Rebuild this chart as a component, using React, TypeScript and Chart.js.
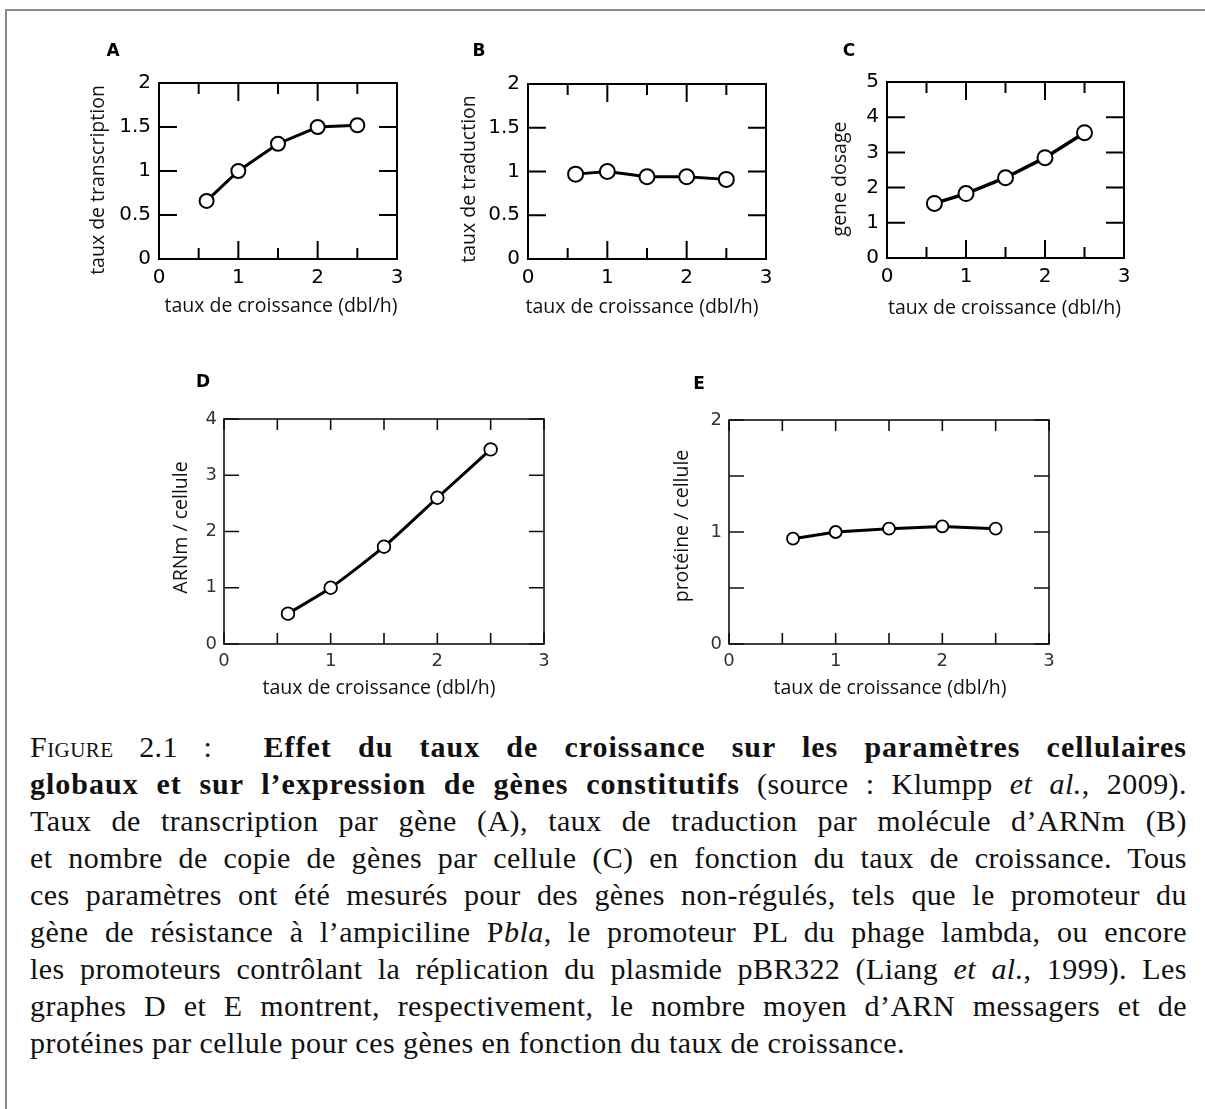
import React, { useEffect, useRef } from "react";
import { Chart, registerables } from "chart.js";

Chart.register(...registerables);

// ---------- data ----------
const growthRate = [0.6, 1, 1.5, 2, 2.5];
const transcriptionRate = [0.66, 1.0, 1.31, 1.5, 1.52];
const translationRate = [0.97, 1.0, 0.94, 0.94, 0.91];
const geneDosage = [1.55, 1.83, 2.28, 2.85, 3.56];
const mrnaPerCell = [0.54, 1.0, 1.73, 2.6, 3.46];
const proteinPerCell = [0.94, 1.0, 1.03, 1.05, 1.03];

const xTitle = "taux de croissance (dbl/h)";
const xMin = 0;
const xMax = 3;
const xStep = 0.5;

// ---------- layout / style ----------
const M = { left: 90, top: 50, right: 30, bottom: 70 };

type Area = { l: number; t: number; r: number; b: number };
type PanelCfg = {
  letter: string;
  yTitle: string;
  values: number[];
  yMax: number;
  yStep: number;
  yIntLabels: boolean;
  area: Area;
  tickFont: number;
  tickColor: string;
  xPad: number;
  yPad: number;
  frameW: number;
  frameColor: string;
  xMajor: number;
  xMinor: number;
  yMajor: number;
  yMinor: number;
  lineW: number;
  pointR: number;
  pointBW: number;
  tension: number;
  letterDx: number;
  letterDy: number;
  yTitleDx: number;
  yTitleDy: number;
  xTitleDx: number;
  xTitleDy: number;
};

const topStyle = {
  tickFont: 20,
  tickColor: "#000",
  xPad: 7,
  yPad: 8,
  frameW: 2,
  frameColor: "#000",
  xMajor: 18,
  xMinor: 11,
  yMajor: 18,
  yMinor: 11,
  lineW: 3,
  pointBW: 2,
  tension: 0,
};
const bottomStyle = {
  tickFont: 18,
  tickColor: "#333",
  xPad: 7,
  yPad: 7,
  frameW: 1.6,
  frameColor: "#111",
  xMajor: 11,
  xMinor: 11,
  yMajor: 15,
  yMinor: 15,
  lineW: 3,
  pointBW: 1.8,
};

const panels: PanelCfg[] = [
  {
    ...topStyle,
    letter: "A",
    yTitle: "taux de transcription",
    values: transcriptionRate,
    yMax: 2,
    yStep: 0.5,
    yIntLabels: false,
    area: { l: 159, t: 83, r: 397, b: 259 },
    pointR: 7,
    letterDx: -46,
    letterDy: -31,
    yTitleDx: -61,
    yTitleDy: 9,
    xTitleDx: 3,
    xTitleDy: 47.5,
  },
  {
    ...topStyle,
    letter: "B",
    yTitle: "taux de traduction",
    values: translationRate,
    yMax: 2,
    yStep: 0.5,
    yIntLabels: false,
    area: { l: 528, t: 84, r: 766, b: 259 },
    pointR: 7.5,
    letterDx: -49,
    letterDy: -32,
    yTitleDx: -59,
    yTitleDy: 7.5,
    xTitleDx: -5,
    xTitleDy: 48.5,
  },
  {
    ...topStyle,
    letter: "C",
    yTitle: "gene dosage",
    values: geneDosage,
    yMax: 5,
    yStep: 1,
    yIntLabels: false,
    area: { l: 887, t: 82, r: 1124, b: 258 },
    pointR: 7.5,
    lineW: 3.5,
    letterDx: -38,
    letterDy: -30,
    yTitleDx: -47,
    yTitleDy: 9,
    xTitleDx: -1,
    xTitleDy: 50,
  },
  {
    ...bottomStyle,
    letter: "D",
    yTitle: "ARNm / cellule",
    values: mrnaPerCell,
    yMax: 4,
    yStep: 1,
    yIntLabels: false,
    area: { l: 224, t: 419, r: 544, b: 644 },
    pointR: 6.3,
    tension: 0.2,
    letterDx: -21,
    letterDy: -36,
    yTitleDx: -43,
    yTitleDy: -4,
    xTitleDx: -5,
    xTitleDy: 44,
  },
  {
    ...bottomStyle,
    letter: "E",
    yTitle: "protéine / cellule",
    values: proteinPerCell,
    yMax: 2,
    yStep: 0.5,
    yIntLabels: true,
    area: { l: 729, t: 420, r: 1049, b: 644 },
    pointR: 6,
    tension: 0,
    letterDx: -30,
    letterDy: -35,
    yTitleDx: -47,
    yTitleDy: -6,
    xTitleDx: 1,
    xTitleDy: 44,
  },
];

const titleFont = '19.5px "Open Sans", "Noto Sans", sans-serif';
const letterFont = 'bold 17px "DejaVu Sans", sans-serif';
const tickFamily = '"DejaVu Sans", "Liberation Sans", sans-serif';

function makeFramePlugin(p: PanelCfg) {
  return {
    id: "frame" + p.letter,
    beforeDatasetsDraw(chart: any) {
      const { ctx, chartArea: a } = chart;
      const xs = chart.scales.x;
      const ys = chart.scales.y;
      ctx.save();
      ctx.strokeStyle = p.frameColor;
      ctx.lineWidth = p.frameW;
      ctx.strokeRect(a.left, a.top, a.right - a.left, a.bottom - a.top);
      ctx.beginPath();
      xs.ticks.forEach((t: any) => {
        const px = xs.getPixelForValue(t.value);
        const len = t.label !== "" ? p.xMajor : p.xMinor;
        ctx.moveTo(px, a.bottom);
        ctx.lineTo(px, a.bottom - len);
        ctx.moveTo(px, a.top);
        ctx.lineTo(px, a.top + len);
      });
      ys.ticks.forEach((t: any) => {
        const py = ys.getPixelForValue(t.value);
        const len = t.label !== "" ? p.yMajor : p.yMinor;
        ctx.moveTo(a.left, py);
        ctx.lineTo(a.left + len, py);
        ctx.moveTo(a.right, py);
        ctx.lineTo(a.right - len, py);
      });
      ctx.stroke();
      ctx.restore();
    },
    afterDraw(chart: any) {
      const { ctx, chartArea: a } = chart;
      ctx.save();
      ctx.fillStyle = "#111";
      ctx.font = titleFont;
      ctx.textAlign = "center";
      ctx.textBaseline = "middle";
      ctx.fillText(xTitle, (a.left + a.right) / 2 + p.xTitleDx, a.bottom + p.xTitleDy);
      ctx.save();
      ctx.translate(a.left + p.yTitleDx, (a.top + a.bottom) / 2 + p.yTitleDy);
      ctx.rotate(-Math.PI / 2);
      ctx.fillText(p.yTitle, 0, 0);
      ctx.restore();
      ctx.fillStyle = "#000";
      ctx.font = letterFont;
      ctx.fillText(p.letter, a.left + p.letterDx, a.top + p.letterDy);
      ctx.restore();
    },
  };
}

function Panel({ p }: { p: PanelCfg }) {
  const ref = useRef<HTMLCanvasElement | null>(null);
  const w = p.area.r - p.area.l + M.left + M.right;
  const h = p.area.b - p.area.t + M.top + M.bottom;

  useEffect(() => {
    if (!ref.current) return;
    const chart = new Chart(ref.current, {
      type: "line",
      data: {
        datasets: [
          {
            data: growthRate.map((x, i) => ({ x, y: p.values[i] })),
            borderColor: "#000",
            borderWidth: p.lineW,
            pointRadius: p.pointR,
            pointHoverRadius: p.pointR,
            pointBackgroundColor: "#fff",
            pointBorderColor: "#000",
            pointBorderWidth: p.pointBW,
            tension: p.tension,
            fill: false,
            clip: false as any,
          },
        ],
      },
      options: {
        responsive: false,
        animation: false,
        events: [],
        layout: { padding: { left: 0, top: M.top, right: M.right, bottom: 0 } },
        plugins: { legend: { display: false }, tooltip: { enabled: false } },
        scales: {
          x: {
            type: "linear",
            min: xMin,
            max: xMax,
            grid: { display: false, drawTicks: false },
            border: { display: false },
            ticks: {
              stepSize: xStep,
              autoSkip: false,
              maxRotation: 0,
              padding: p.xPad,
              color: p.tickColor,
              font: { family: tickFamily, size: p.tickFont },
              callback: (v: any) => (Number.isInteger(Number(v)) ? String(v) : ""),
            },
            afterFit: (s: any) => {
              s.height = M.bottom;
            },
          },
          y: {
            type: "linear",
            min: 0,
            max: p.yMax,
            grid: { display: false, drawTicks: false },
            border: { display: false },
            ticks: {
              stepSize: p.yStep,
              autoSkip: false,
              padding: p.yPad,
              color: p.tickColor,
              font: { family: tickFamily, size: p.tickFont },
              callback: (v: any) =>
                p.yIntLabels ? (Number.isInteger(Number(v)) ? String(v) : "") : String(v),
            },
            afterFit: (s: any) => {
              s.width = M.left;
            },
          },
        },
      },
      plugins: [makeFramePlugin(p)],
    } as any);
    return () => chart.destroy();
  }, []);

  return (
    <canvas
      ref={ref}
      width={w}
      height={h}
      style={{
        position: "absolute",
        left: p.area.l - M.left,
        top: p.area.t - M.top,
        width: w,
        height: h,
      }}
    />
  );
}

const just: React.CSSProperties = { textAlign: "justify", textAlignLast: "justify" };
const wideBold: React.CSSProperties = { letterSpacing: "1px" };

export default function App() {
  return (
    <div
      style={{
        position: "absolute",
        left: 0,
        top: 0,
        width: 1205,
        height: 1109,
        overflow: "hidden",
        background: "#fff",
      }}
    >
      <div
        style={{
          position: "absolute",
          left: 5,
          top: 9,
          width: 1300,
          height: 1300,
          borderTop: "2px solid #8c8c8c",
          borderLeft: "2px solid #8c8c8c",
        }}
      />
      {panels.map((p) => (
        <Panel key={p.letter} p={p} />
      ))}
      <div
        style={{
          position: "absolute",
          left: 30,
          top: 728,
          width: 1157,
          fontFamily: '"Liberation Serif", "Times New Roman", serif',
          fontSize: 30,
          lineHeight: "37px",
          letterSpacing: "0.45px",
          color: "#111",
        }}
      >
        <div style={just}>
          <span style={{ fontVariant: "small-caps" }}>Figure</span> 2.1 :&nbsp;{" "}
          <b style={wideBold}>Effet du taux de croissance sur les paramètres cellulaires</b>
        </div>
        <div style={just}>
          <b style={wideBold}>globaux et sur l’expression de gènes constitutifs</b> (source :
          Klumpp <i>et al.</i>, 2009).
        </div>
        <div style={just}>
          Taux de transcription par gène (A), taux de traduction par molécule d’ARNm (B)
        </div>
        <div style={just}>
          et nombre de copie de gènes par cellule (C) en fonction du taux de croissance. Tous
        </div>
        <div style={just}>
          ces paramètres ont été mesurés pour des gènes non-régulés, tels que le promoteur du
        </div>
        <div style={just}>
          gène de résistance à l’ampiciline P<i>bla</i>, le promoteur PL du phage lambda, ou
          encore
        </div>
        <div style={just}>
          les promoteurs contrôlant la réplication du plasmide pBR322 (Liang <i>et al.</i>,
          1999). Les
        </div>
        <div style={just}>
          graphes D et E montrent, respectivement, le nombre moyen d’ARN messagers et de
        </div>
        <div>protéines par cellule pour ces gènes en fonction du taux de croissance.</div>
      </div>
    </div>
  );
}
